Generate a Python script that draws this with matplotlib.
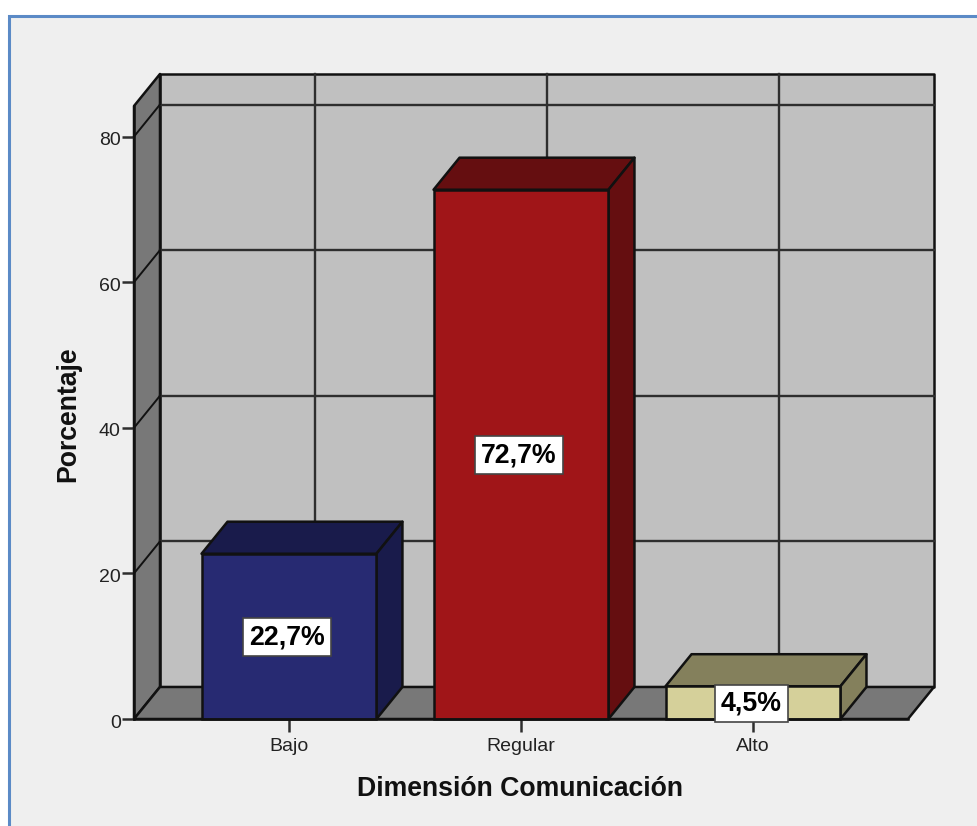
#!/usr/bin/env python3
"""Pseudo-3D SPSS style bar chart of the Comunicacion dimension levels."""
import matplotlib
matplotlib.use("Agg")
import matplotlib.pyplot as plt
from matplotlib.patches import Polygon, Rectangle
from matplotlib.transforms import ScaledTranslation

categories = ["Bajo", "Regular", "Alto"]
percentages = [22.7, 72.7, 4.5]
value_labels = ["22,7%", "72,7%", "4,5%"]
y_ticks = [0, 20, 40, 60, 80]
front_colors = ["#272A72", "#A01518", "#D5D09A"]
shade_colors = ["#191B4B", "#650E10", "#84805C"]

W, H = 977, 826
BAR_W = 0.754
DX, DY = 0.112, 4.4  # depth offset of the back plane, in data units
XMIN, XMAX = -0.668, 2.668
YMAX = 84.2
EDGE = "#111111"
GRID = "#2E2E2E"

plt.rcParams["font.family"] = ["Liberation Sans", "DejaVu Sans"]

fig = plt.figure(figsize=(W / 100, H / 100), dpi=100, facecolor="white")
fig.patches.append(Rectangle((9 / W, -0.01), 1.0, 1 - 16 / H + 0.01, transform=fig.transFigure,
                             fc="#EFEFEF", ec="#5B8AC6", lw=2.2, zorder=-1))
ax = fig.add_axes([134 / W, 1 - 719 / H, 774 / W, 613 / H])
ax.set_xlim(XMIN, XMAX); ax.set_ylim(0, YMAX)
ax.patch.set_visible(False)
ax.spines["top"].set_visible(False); ax.spines["right"].set_visible(False)
for s in ("left", "bottom"):
    ax.spines[s].set_linewidth(1.8); ax.spines[s].set_color(EDGE); ax.spines[s].set_zorder(5)


def poly(pts, fc, z=1):
    ax.add_patch(Polygon(pts, closed=True, fc=fc, ec=EDGE, lw=1.8, zorder=z,
                         clip_on=False, joinstyle="round"))


# walls and floor
poly([(XMIN + DX, DY), (XMAX + DX, DY), (XMAX + DX, YMAX + DY), (XMIN + DX, YMAX + DY)], "#C0C0C0")
poly([(XMIN, 0), (XMIN + DX, DY), (XMIN + DX, YMAX + DY), (XMIN, YMAX)], "#787878")
poly([(XMIN, 0), (XMAX, 0), (XMAX + DX, DY), (XMIN + DX, DY)], "#787878")

# gridlines on the back wall, plus their run across the side wall
for t in y_ticks[1:]:
    ax.plot([XMIN + DX, XMAX + DX], [t + DY, t + DY], color=GRID, lw=1.7, zorder=2, clip_on=False)
    ax.plot([XMIN, XMIN + DX], [t, t + DY], color=EDGE, lw=1.4, zorder=2, clip_on=False)
for i in range(len(categories)):
    ax.plot([i + DX, i + DX], [DY, YMAX + DY], color=GRID, lw=1.7, zorder=2, clip_on=False)

# bars: front face, top and right side
for i, (v, fc, sc) in enumerate(zip(percentages, front_colors, shade_colors)):
    l, r = i - BAR_W / 2, i + BAR_W / 2
    ax.bar(i, v, BAR_W, color=fc, edgecolor=EDGE, linewidth=1.8, zorder=4, clip_on=False)
    poly([(l, v), (r, v), (r + DX, v + DY), (l + DX, v + DY)], sc, 3)
    poly([(r, 0), (r + DX, DY), (r + DX, v + DY), (r, v)], sc, 3)

for i, (v, s) in enumerate(zip(percentages, value_labels)):
    ax.text(i - 0.008, v / 2 + 0.3, s, ha="center", va="center_baseline", fontsize=19.3, fontweight="bold",
            color="black", zorder=7,
            bbox=dict(boxstyle="square,pad=0.22", fc="white", ec="#444444", lw=1.2))

ax.set_xticks(range(len(categories))); ax.set_xticklabels(categories)
ax.set_yticks(y_ticks)
ax.tick_params(axis="both", labelsize=14, length=9, width=1.8, color=GRID, labelcolor="#222222")
ax.tick_params(axis="x", pad=5)
ax.tick_params(axis="y", pad=0.5)
# tick numbers sit a little below their tick marks
nudge = ScaledTranslation(0, -2 / 72 * 72 / 100, fig.dpi_scale_trans)
for lab in ax.get_yticklabels():
    lab.set_transform(lab.get_transform() + nudge)
ax.set_xlabel("Dimensión Comunicación", fontsize=19.2, fontweight="bold", color="#111111")
ax.set_ylabel("Porcentaje", fontsize=19.2, fontweight="bold", color="#111111")
ax.xaxis.set_label_coords((520 - 134) / 774, -(776 - 719) / 613)
ax.yaxis.set_label_coords(-(134 - 81) / 774, (719 - 414) / 613)

fig.savefig("out.png", dpi=100)
